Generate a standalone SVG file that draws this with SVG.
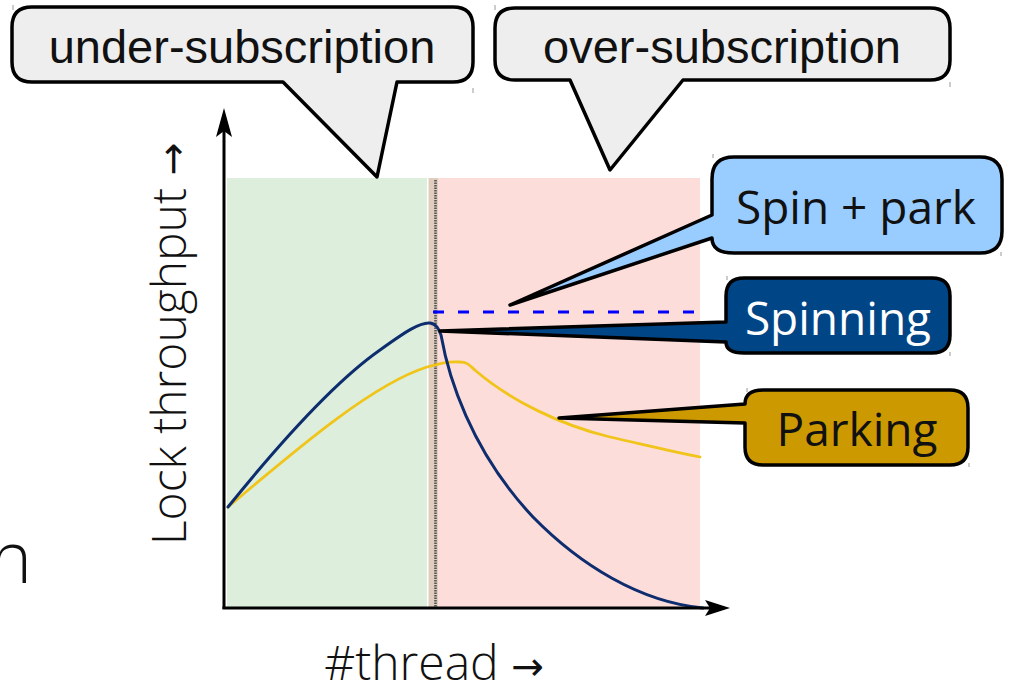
<svg xmlns="http://www.w3.org/2000/svg" width="1011" height="686" viewBox="0 0 1011 686">
  <style>
    .callout { stroke: #000; stroke-width: 3.5; stroke-linejoin: round; }
    .grey { fill: #eeeeee; }
    .head { font-family: "Liberation Sans", Arial, sans-serif; font-size: 47px; fill: #111; text-anchor: middle; }
    .lab { font-family: "Open Sans", "Noto Sans", sans-serif; font-size: 46px; text-anchor: middle; }
    .axislab { font-family: "Open Sans", "Noto Sans", sans-serif; font-weight: 300; font-size: 48px; fill: #111; text-anchor: middle; }
    .arrow { font-family: "DejaVu Sans", sans-serif; font-weight: normal; font-size: 39px; }
    .tick { stroke: #999; stroke-width: 1; }
  </style>

  <rect width="1011" height="686" fill="#ffffff"/>

  <!-- plot background regions -->
  <g id="regions">
    <rect x="227" y="178" width="200" height="430" fill="#ddefdc"/>
    <rect x="428.5" y="178" width="9.5" height="430" fill="#e0cdbe"/>
    <rect x="438" y="178" width="262" height="430" fill="#fdddda"/>
    <line x1="435.5" y1="180" x2="435.5" y2="607" stroke="#555" stroke-width="2.6" stroke-dasharray="1.5 1"/>
  </g>

  <!-- throughput curves -->
  <g id="curves" fill="none" stroke-linecap="round" stroke-linejoin="round">
    <path id="parking-curve" d="M228,507 C290,455 370,385 427,367 C440,363 450,361 460,362 C468,362 470,366 476,371 C510,400 560,425 610,437 C650,446 680,453 700,457" stroke="#f0c419" stroke-width="2.8"/>
    <path id="spinning-curve" d="M228,507 C270,455 330,385 380,350 C405,332 420,322 430,323 C437,324 439,330 441,335 C448,375 470,450 533,517 C580,565 640,602 703,608" stroke="#0e2d6e" stroke-width="3"/>
    <line id="spinpark-line" x1="433" y1="312" x2="697" y2="312" stroke="#0000ff" stroke-width="3" stroke-dasharray="11 14" stroke-linecap="butt"/>
  </g>

  <!-- axes -->
  <g id="axes" stroke="#000" stroke-width="3" fill="#000">
    <line x1="224" y1="609" x2="224" y2="130"/>
    <line x1="222.5" y1="608" x2="712" y2="608"/>
    <path d="M224,108 L232,137 L224,131 L216,137 Z" stroke="none"/>
    <path d="M730,608 L705,600 L710,608 L705,616 Z" stroke="none"/>
  </g>

  <!-- axis labels -->
  <g id="axis-labels">
    <text class="axislab" transform="translate(186,344) rotate(-90)">Lock throughput <tspan class="arrow">→</tspan></text>
    <text class="axislab" x="434" y="680">#thread <tspan class="arrow">→</tspan></text>
    <text x="-10" y="583" font-family="'Open Sans', 'Noto Sans', sans-serif" font-weight="300" font-size="71" fill="#111">n</text>
  </g>

  <!-- region callouts -->
  <g id="under-subscription">
    <path class="callout grey" d="M32,7 H453 Q473,7 473,27 V62 Q473,82 453,82 H397 L377,177 L283,82 H32 Q12,82 12,62 V27 Q12,7 32,7 Z"/>
    <text class="head" x="242" y="63">under-subscription</text>
  </g>
  <g id="over-subscription">
    <path class="callout grey" d="M515,8 H930 Q950,8 950,28 V60 Q950,80 930,80 H683 L610,170 L570,80 H515 Q495,80 495,60 V28 Q495,8 515,8 Z"/>
    <text class="head" x="722" y="63">over-subscription</text>
  </g>

  <!-- curve callouts -->
  <g id="spin-park">
    <path class="callout" fill="#99ccff" d="M734,157 H980 Q1002,157 1002,179 V231 Q1002,253 980,253 H734 Q712,253 712,238 L510,305 L712,215 V179 Q712,157 734,157 Z"/>
    <text class="lab" x="856" y="224" fill="#111">Spin + park</text>
  </g>
  <g id="spinning">
    <path class="callout" fill="#004586" d="M744,278 H932 Q950,278 950,296 V335 Q950,353 932,353 H744 Q726,353 726,342 L440,331 L726,322 V296 Q726,278 744,278 Z"/>
    <text class="lab" x="838" y="335" fill="#ffffff">Spinning</text>
  </g>
  <g id="parking">
    <path class="callout" fill="#cc9900" d="M763,390 H950 Q968,390 968,408 V447 Q968,465 950,465 H763 Q745,465 745,447 V423 L559,418 L745,404 Q745,390 763,390 Z"/>
    <text class="lab" x="857" y="446" fill="#111">Parking</text>
  </g>

  <!-- frame corner marks of the callout boxes -->
  <g id="corner-marks" class="tick">
    <line x1="13" y1="5" x2="13" y2="10"/>
    <line x1="473" y1="88" x2="473" y2="93"/>
    <line x1="495" y1="5" x2="495" y2="10"/>
    <line x1="950" y1="82" x2="950" y2="87"/>
    <line x1="713" y1="154" x2="713" y2="158"/>
    <line x1="1001" y1="252" x2="1001" y2="256"/>
    <line x1="727" y1="276" x2="727" y2="280"/>
    <line x1="950" y1="352" x2="950" y2="356"/>
    <line x1="747" y1="388" x2="747" y2="392"/>
    <line x1="969" y1="463" x2="969" y2="467"/>
  </g>
</svg>
